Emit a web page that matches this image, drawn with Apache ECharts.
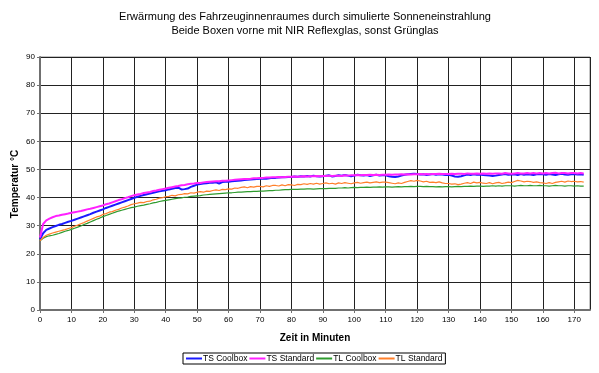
<!DOCTYPE html>
<html>
<head>
<meta charset="utf-8">
<script src="https://cdn.jsdelivr.net/npm/echarts@6/dist/echarts.min.js"></script>
<style>
html,body{margin:0;padding:0;background:#fff;}
#chart{width:599px;height:373px;}
</style>
</head>
<body>
<div id="chart"></div>
<script>
// Title
const titleLines = ["Erwärmung des Fahrzeuginnenraumes durch simulierte Sonneneinstrahlung", "Beide Boxen vorne mit NIR Reflexglas, sonst Grünglas"];
const xAxisTitle = "Zeit in Minuten";
const yAxisTitle = "Temperatur °C";
const seriesNames = ["TS Coolbox", "TS Standard", "TL Coolbox", "TL Standard"];
const seriesColors = ["#1a1aff", "#ff20ff", "#2e9b2e", "#ff7f2a"];

// Sampling: one reading per minute, starting at minute 0
const startMinute = 0;
const stepMinutes = 1;

const tsCoolbox = [
25.2,27.3,28.5,29.0,29.5,29.9,30.3,30.6,31.0,31.4,
31.7,32.1,32.5,32.9,33.3,33.7,34.1,34.6,35.0,35.4,
35.8,36.3,36.7,37.1,37.5,37.9,38.3,38.7,39.1,39.5,
39.9,40.3,40.6,40.9,41.2,41.4,41.7,42.0,42.2,42.4,
42.6,42.9,43.1,43.4,43.5,42.9,43.0,43.2,43.8,44.2,
44.6,44.8,45.0,45.1,45.3,45.3,45.4,45.0,45.5,45.6,
45.6,45.8,45.9,46.0,46.1,46.2,46.3,46.4,46.5,46.6,
46.7,46.8,46.7,46.9,47.0,47.0,47.1,47.2,47.2,47.3,
47.3,47.5,47.4,47.6,47.5,47.7,47.5,47.8,47.6,47.5,
47.6,47.8,47.9,47.5,47.7,47.9,47.8,48.0,47.8,47.6,
47.8,48.1,47.9,47.8,48.0,47.7,47.9,48.1,47.8,47.9,
47.9,47.6,47.4,47.3,47.5,47.8,48.1,48.3,48.4,48.5,
48.4,48.2,48.3,48.0,48.2,48.4,48.1,48.3,48.2,48.0,
48.1,47.8,47.5,47.4,47.6,47.9,48.2,48.0,48.3,48.1,
48.2,48.0,47.9,47.8,47.7,47.8,48.0,48.2,48.4,48.1,
48.2,48.3,48.0,48.4,48.1,48.3,48.2,48.0,48.3,48.4,
48.3,48.1,48.4,48.2,48.0,48.3,48.5,48.2,48.1,48.3,
48.4,48.2,48.3,48.1];

const tsStandard = [
25.8,30.6,31.9,32.5,33.0,33.4,33.6,33.9,34.1,34.3,
34.6,34.8,35.0,35.2,35.5,35.8,36.0,36.3,36.6,36.9,
37.2,37.6,37.9,38.3,38.7,39.1,39.4,39.8,40.1,40.5,
40.8,41.1,41.3,41.6,41.8,42.0,42.3,42.5,42.8,43.0,
43.2,43.5,43.7,43.9,44.1,44.4,44.5,44.7,44.9,45.0,
45.2,45.2,45.4,45.5,45.6,45.7,45.8,45.8,46.0,46.0,
46.1,46.2,46.3,46.4,46.5,46.6,46.6,46.7,46.9,46.9,
47.0,47.0,47.1,47.1,47.2,47.2,47.3,47.2,47.3,47.4,
47.4,47.5,47.4,47.5,47.6,47.5,47.6,47.6,47.7,47.6,
47.7,47.7,47.8,47.7,47.8,47.8,47.7,47.9,47.8,47.9,
47.9,48.0,47.9,48.0,48.0,48.1,48.0,48.1,48.0,48.1,
48.1,48.2,48.1,48.2,48.2,48.3,48.2,48.3,48.2,48.3,
48.3,48.4,48.3,48.4,48.3,48.4,48.4,48.5,48.4,48.4,
48.4,48.5,48.4,48.5,48.5,48.4,48.6,48.5,48.5,48.6,
48.5,48.6,48.5,48.6,48.5,48.6,48.6,48.5,48.7,48.6,
48.5,48.6,48.7,48.6,48.6,48.7,48.6,48.7,48.6,48.7,
48.6,48.7,48.6,48.7,48.8,48.6,48.7,48.7,48.6,48.7,
48.7,48.6,48.7,48.6];

const tlCoolbox = [
24.6,25.5,26.1,26.4,26.6,26.9,27.2,27.6,28.0,28.3,
28.7,29.1,29.5,29.9,30.4,30.8,31.3,31.8,32.3,32.7,
33.2,33.6,34.0,34.4,34.8,35.2,35.5,35.8,36.1,36.4,
36.6,36.9,37.1,37.3,37.6,37.8,38.1,38.3,38.6,38.8,
39.0,39.2,39.4,39.6,39.8,39.9,40.1,40.2,40.4,40.5,
40.6,40.7,40.9,41.0,41.1,41.2,41.3,41.4,41.5,41.6,
41.7,41.7,41.8,41.9,41.9,42.0,42.1,42.1,42.2,42.2,
42.3,42.3,42.4,42.5,42.5,42.6,42.6,42.7,42.8,42.8,
42.9,42.9,42.9,43.0,43.0,43.1,43.1,43.0,43.1,43.2,
43.2,43.2,43.3,43.3,43.3,43.4,43.4,43.5,43.4,43.5,
43.6,43.5,43.6,43.6,43.7,43.6,43.7,43.7,43.8,43.7,
43.8,43.8,43.7,43.8,43.9,43.8,43.9,43.9,44.0,43.9,
44.0,44.0,43.9,44.0,43.9,43.9,43.8,43.9,43.8,43.9,
43.9,43.8,43.9,44.0,43.9,44.0,44.0,44.1,44.0,44.1,
44.1,44.0,44.1,44.1,44.2,44.1,44.2,44.1,44.2,44.2,
44.2,44.1,44.2,44.3,44.2,44.2,44.3,44.2,44.2,44.3,
44.2,44.2,44.1,44.2,44.3,44.2,44.2,44.1,44.2,44.2,
44.1,44.2,44.1,44.1];

const tlStandard = [
24.6,25.8,26.6,27.0,27.4,27.7,28.0,28.3,28.6,29.0,
29.3,29.8,30.2,30.7,31.1,31.6,32.1,32.6,33.1,33.4,
34.0,34.3,34.8,35.0,35.5,35.8,36.3,36.6,37.0,37.5,
37.8,38.0,38.3,38.2,38.6,38.7,39.2,39.4,39.8,40.0,
40.3,40.4,40.8,40.6,41.0,41.1,41.4,41.3,41.7,41.6,
41.9,42.1,41.9,42.3,42.2,42.5,42.7,42.5,42.9,42.8,
43.1,43.0,43.4,43.3,43.6,43.8,43.5,43.9,43.7,44.0,
44.0,43.8,44.2,44.0,44.3,44.3,44.1,44.5,44.2,44.6,
44.5,44.3,44.7,44.6,44.9,44.7,45.0,44.8,45.1,44.8,
45.0,45.2,44.9,45.1,44.8,45.2,45.0,45.3,45.1,44.9,
45.2,45.4,45.1,45.3,45.5,45.2,45.4,45.6,45.3,45.5,
45.5,45.3,45.1,44.9,45.2,45.0,45.4,45.7,46.0,45.8,
46.1,45.9,45.6,45.8,45.4,45.5,45.3,45.6,45.2,45.0,
45.0,44.8,44.9,44.6,44.8,45.1,45.3,45.0,45.5,45.2,
45.4,45.1,45.0,45.3,44.9,45.2,45.4,45.0,45.2,45.5,
45.3,45.7,46.1,45.9,45.6,45.8,45.7,45.4,45.6,45.3,
45.2,45.0,45.3,45.0,45.4,45.6,45.8,45.5,45.9,45.7,
45.8,45.6,45.7,45.5];

const seriesValues = [tsCoolbox, tsStandard, tlCoolbox, tlStandard];

const chart = echarts.init(document.getElementById('chart'), null, {renderer: 'canvas'});
const FONT = 'Liberation Sans, Arial, sans-serif';

function pairs(arr) {
  return arr.map((v, i) => [startMinute + i * stepMinutes, v]);
}

const lineWidths = [2, 2, 1.2, 1.2];

chart.setOption({
  backgroundColor: '#ffffff',
  animation: false,
  title: {
    text: titleLines.join('\n'),
    left: 300,
    textAlign: 'center',
    top: 5,
    textStyle: {fontFamily: FONT, fontSize: 11, fontWeight: 'normal', color: '#000', lineHeight: 14}
  },
  grid: {left: 40, right: 9, top: 57, bottom: 63, show: true, borderColor: '#8a8a8a', borderWidth: 1, containLabel: false},
  legend: {
    data: seriesNames,
    left: 183, top: 353,
    orient: 'horizontal',
    itemWidth: 16, itemHeight: 2, itemGap: 2,
    icon: 'rect',
    padding: [1, 3, 1, 3],
    borderColor: '#000', borderWidth: 1,
    textStyle: {fontFamily: FONT, fontSize: 8.5, color: '#000', padding: [0, 0, 0, -4]}
  },
  xAxis: {
    type: 'value', min: 0, max: 175, interval: 10,
    axisLine: {show: true, lineStyle: {color: '#707070', width: 2}},
    axisTick: {show: true, length: 3, lineStyle: {color: '#707070'}},
    axisLabel: {fontFamily: FONT, fontSize: 8, color: '#000', margin: 6, showMaxLabel: false},
    splitLine: {show: true, lineStyle: {color: '#222', width: 1}}
  },
  yAxis: {
    type: 'value', min: 0, max: 90, interval: 10,
    axisLine: {show: true, lineStyle: {color: '#707070', width: 2}},
    axisTick: {show: true, length: 3, lineStyle: {color: '#707070'}},
    axisLabel: {fontFamily: FONT, fontSize: 8, color: '#000', margin: 5},
    splitLine: {show: true, lineStyle: {color: '#222', width: 1}}
  },
  graphic: [
    {type: 'text', x: 315, y: 338, style: {text: xAxisTitle, font: 'bold 10px ' + FONT, fill: '#000', textAlign: 'center', textVerticalAlign: 'middle'}},
    {type: 'text', x: 15, y: 184, rotation: Math.PI / 2, style: {text: yAxisTitle, font: 'bold 10px ' + FONT, fill: '#000', textAlign: 'center', textVerticalAlign: 'middle'}}
  ],
  series: seriesNames.map((name, i) => ({
    name: name,
    type: 'line',
    data: pairs(seriesValues[i]),
    showSymbol: false,
    symbol: 'none',
    color: seriesColors[i],
    lineStyle: {width: lineWidths[i], color: seriesColors[i]},
    emphasis: {disabled: true}
  }))
});
</script>
</body>
</html>
